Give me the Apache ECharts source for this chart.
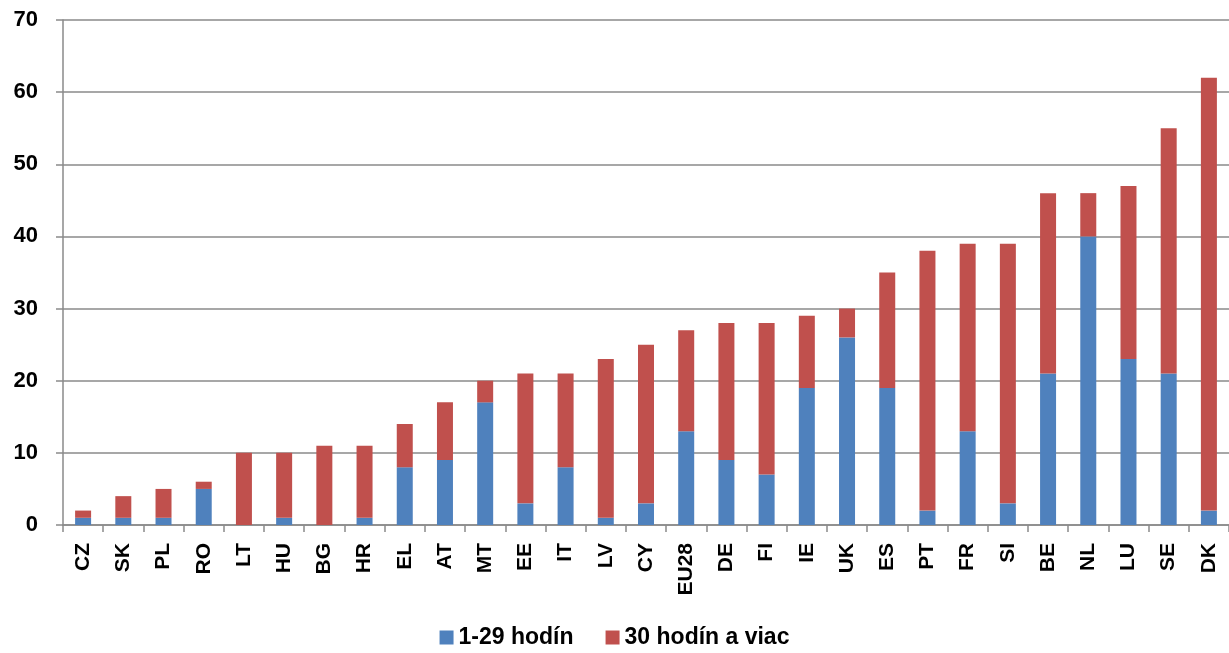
<!DOCTYPE html>
<html>
<head>
<meta charset="utf-8">
<script src="https://cdn.jsdelivr.net/npm/echarts@6/dist/echarts.min.js"></script>
<style>
  html, body { margin: 0; padding: 0; background: #fff; }
  #main { width: 1229px; height: 653px; }
</style>
</head>
<body>
<div id="main"></div>
<script>
// krajiny a hodnoty (odčítané z grafu)
let countries = ['CZ', 'SK', 'PL', 'RO', 'LT', 'HU', 'BG', 'HR', 'EL', 'AT', 'MT', 'EE', 'IT', 'LV', 'CY',
    'EU28', 'DE', 'FI', 'IE', 'UK', 'ES', 'PT', 'FR', 'SI', 'BE', 'NL', 'LU', 'SE', 'DK'];
let hours1to29 = [1, 1, 1, 5, 0, 1, 0, 1, 8, 9, 17, 3, 8, 1, 3,
    13, 9, 7, 19, 26, 19, 2, 13, 3, 21, 40, 23, 21, 2];
let hours30plus = [1, 3, 4, 1, 10, 9, 11, 10, 6, 8, 3, 18, 13, 22, 22,
    14, 19, 21, 10, 4, 16, 36, 26, 36, 25, 6, 24, 34, 60];
let yTicks = [0, 10, 20, 30, 40, 50, 60, 70];

let font = 'Liberation Sans';
let gray = '#8a8a8a';

let chart = echarts.init(document.getElementById('main'));
chart.setOption({
    animation: false,
    grid: { left: 63, right: 0, top: 20, bottom: 128, containLabel: false },
    legend: {
        bottom: -1,
        left: 'center',
        itemWidth: 14,
        itemHeight: 14,
        itemGap: 32,
        icon: 'rect',
        textStyle: { fontFamily: font, fontWeight: 'bold', fontSize: 23, color: '#000' },
        data: ['1-29 hodín', '30 hodín a viac']
    },
    xAxis: {
        type: 'category',
        data: countries,
        axisLine: { lineStyle: { color: gray, width: 1.5 } },
        axisTick: { show: true, length: 7, lineStyle: { color: gray, width: 1.5 } },
        axisLabel: {
            rotate: 90, interval: 0, margin: 18,
            fontFamily: font, fontWeight: 'bold', fontSize: 21, color: '#000'
        }
    },
    yAxis: {
        type: 'value',
        min: yTicks[0],
        max: yTicks[yTicks.length - 1],
        interval: 10,
        axisLine: { show: true, lineStyle: { color: gray, width: 1.5 } },
        axisTick: { show: true, length: 7, lineStyle: { color: gray, width: 1.5 } },
        splitLine: { lineStyle: { color: gray, width: 1.5 } },
        axisLabel: { margin: 25, fontFamily: font, fontWeight: 'bold', fontSize: 22, color: '#000' }
    },
    series: [
        {
            name: '1-29 hodín',
            type: 'bar',
            stack: 'spolu',
            barWidth: 16,
            itemStyle: { color: '#4f81bd' },
            data: hours1to29
        },
        {
            name: '30 hodín a viac',
            type: 'bar',
            stack: 'spolu',
            barWidth: 16,
            itemStyle: { color: '#c0504d' },
            data: hours30plus
        }
    ]
});
</script>
</body>
</html>
